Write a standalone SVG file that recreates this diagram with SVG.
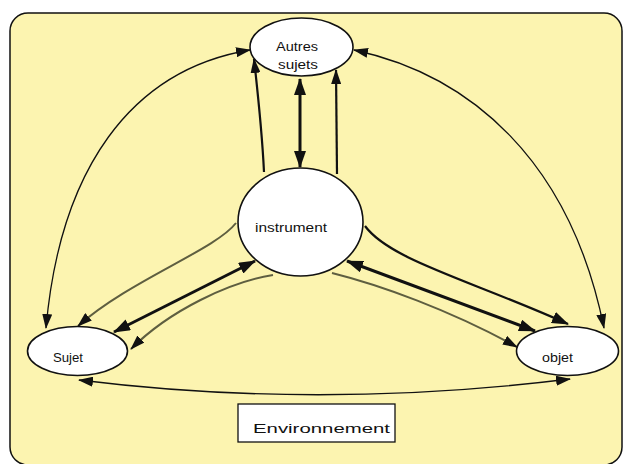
<svg xmlns="http://www.w3.org/2000/svg" width="625" height="464" viewBox="0 0 625 464">
<defs>
<style>
.node{fill:#ffffff;stroke:#111;stroke-width:1.6}
.lbl{font-family:"Liberation Sans",Arial,sans-serif;font-size:12px;fill:#111}
.thin{fill:none;stroke:#111;stroke-width:1.3}
.med{fill:none;stroke:#111;stroke-width:2.2}
.thick{fill:none;stroke:#111;stroke-width:3}
.olive{fill:none;stroke:#5e5e40;stroke-width:2}
</style>
<marker id="ah" markerUnits="userSpaceOnUse" markerWidth="15" markerHeight="10" refX="14" refY="5" orient="auto-start-reverse" viewBox="0 0 15 10">
<path d="M0,0 L15,5 L0,10 z" fill="#111"/>
</marker>
<marker id="ahb" markerUnits="userSpaceOnUse" markerWidth="17" markerHeight="12" refX="16" refY="6" orient="auto-start-reverse" viewBox="0 0 17 12">
<path d="M0,0 L17,6 L0,12 z" fill="#111"/>
</marker>
</defs>
<rect x="0" y="0" width="625" height="464" fill="#ffffff"/>
<rect id="background" x="10" y="13" width="612" height="452" rx="18" ry="18" fill="#fcf4b0" stroke="#111" stroke-width="1.5"/>
<g id="connectors">
<path class="thick" d="M300,167 L300,79" marker-start="url(#ahb)" marker-end="url(#ahb)"/>
<path class="med" d="M264,172 C262,130 258,95 254,59" marker-end="url(#ah)"/>
<path class="med" d="M337,174 L336,70" marker-end="url(#ah)"/>
<path class="thin" d="M250,50 C130,70 60,170 46,328" marker-start="url(#ah)" marker-end="url(#ah)"/>
<path class="thin" d="M354,50 C470,75 570,160 604,328" marker-start="url(#ah)" marker-end="url(#ah)"/>
<path class="thin" d="M79,380 Q320,410 570,379" marker-start="url(#ah)" marker-end="url(#ah)"/>
<path class="olive" d="M236,223 C215,250 130,280 78,326" marker-end="url(#ah)"/>
<path class="thick" d="M255,261 L114,332" marker-start="url(#ahb)" marker-end="url(#ahb)"/>
<path class="olive" d="M273,275 C230,282 170,310 131,349" marker-end="url(#ah)"/>
<path class="med" d="M365,226 C390,260 470,280 568,324" marker-end="url(#ahb)"/>
<path class="thick" d="M347,261 L535,331" marker-start="url(#ahb)" marker-end="url(#ahb)"/>
<path class="olive" d="M332,273 C380,285 450,310 517,347" marker-end="url(#ah)"/>
</g>
<g id="autres-sujets">
<ellipse class="node" cx="301.5" cy="47" rx="51.5" ry="29"/>
<text class="lbl" x="276" y="51" textLength="42" lengthAdjust="spacingAndGlyphs">Autres</text>
<text class="lbl" x="278" y="69" textLength="40" lengthAdjust="spacingAndGlyphs">sujets</text>
</g>
<g id="instrument">
<ellipse class="node" cx="300.5" cy="222" rx="62.5" ry="54"/>
<text class="lbl" x="255" y="232" textLength="72" lengthAdjust="spacingAndGlyphs">instrument</text>
</g>
<g id="sujet">
<ellipse class="node" cx="77.5" cy="351" rx="50" ry="24.5"/>
<text class="lbl" x="53" y="362" font-size="11" textLength="30" lengthAdjust="spacingAndGlyphs">Sujet</text>
</g>
<g id="objet">
<ellipse class="node" cx="567.5" cy="351" rx="51" ry="24.5"/>
<text class="lbl" x="542" y="362" font-size="11" textLength="31" lengthAdjust="spacingAndGlyphs">objet</text>
</g>
<g id="environnement">
<rect x="238" y="404" width="157" height="38" fill="#ffffff" stroke="#111" stroke-width="1.3"/>
<text class="lbl" x="253" y="433" font-size="17" textLength="137" lengthAdjust="spacingAndGlyphs">Environnement</text>
</g>
</svg>
